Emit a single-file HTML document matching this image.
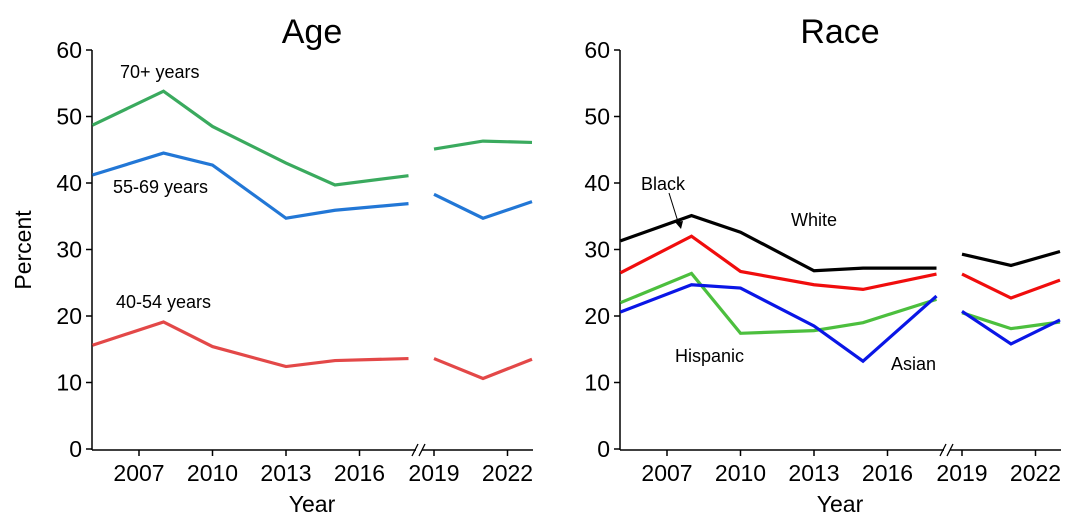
<!DOCTYPE html><html><head><style>body{margin:0;background:#fff}svg{display:block}text{font-family:"Liberation Sans",Arial,sans-serif;fill:#000}</style></head><body>
<svg width="1080" height="527" viewBox="0 0 1080 527" xmlns="http://www.w3.org/2000/svg">
<g id="root"></g>
</svg>
<script>
const NS="http://www.w3.org/2000/svg",root=document.getElementById("root");
function el(t,a,txt){const e=document.createElementNS(NS,t);for(const k in a)e.setAttribute(k,a[k]);if(txt!=null)e.textContent=txt;root.appendChild(e);return e;}
const Y=v=>449-v*6.65;
const yrsL=[2005.1,2008,2010,2013,2015,2018],yrsR=[2019,2021,2023];
function X(off,yr){return yr<2018.6? off+139+(yr-2007)*24.5 : off+434+(yr-2019)*24.5;}
function panel(off,title,series){
 const x0=off+92,xe=off+533;
 el("line",{x1:x0,y1:50,x2:x0,y2:450,stroke:"#000","stroke-width":1.5});
 for(let v=0;v<=60;v+=10){el("line",{x1:x0-6,y1:Y(v),x2:x0,y2:Y(v),stroke:"#000","stroke-width":1.5});
  el("text",{x:x0-10,y:Y(v)+8,"font-size":23,"text-anchor":"end"},v);}
 el("line",{x1:x0,y1:450,x2:off+416,y2:450,stroke:"#000","stroke-width":1.5});
 el("line",{x1:off+422,y1:450,x2:xe,y2:450,stroke:"#000","stroke-width":1.5});
 el("line",{x1:off+412,y1:456,x2:off+418,y2:444,stroke:"#000","stroke-width":1.3});
 el("line",{x1:off+419,y1:456,x2:off+425,y2:444,stroke:"#000","stroke-width":1.3});
 [2007,2010,2013,2016,2019,2022].forEach(y=>{const x=X(off,y);el("line",{x1:x,y1:450,x2:x,y2:456,stroke:"#000","stroke-width":1.5});
  el("text",{x:x,y:481,"font-size":23,"text-anchor":"middle"},y);});
 el("text",{x:off+312,y:512,"font-size":23,"text-anchor":"middle"},"Year");
 el("text",{x:off+312,y:43,"font-size":34,"text-anchor":"middle"},title);
 series.forEach(s=>{
  el("polyline",{points:yrsL.map((y,i)=>X(off,y)+","+Y(s.d[i])).join(" "),fill:"none",stroke:s.c,"stroke-width":3.2});
  el("polyline",{points:yrsR.map((y,i)=>X(off,y)+","+Y(s.d[6+i])).join(" "),fill:"none",stroke:s.c,"stroke-width":3.2});
 });
}
panel(0,"Age",[
 {c:"#3aaa5e",d:[48.7,53.8,48.5,43,39.7,41.1,45.1,46.3,46.1]},
 {c:"#2277d6",d:[41.2,44.5,42.7,34.7,35.9,36.9,38.3,34.7,37.2]},
 {c:"#e34848",d:[15.6,19.1,15.4,12.4,13.3,13.6,13.6,10.6,13.5]}]);
panel(528,"Race",[
 {c:"#000",d:[31.3,35.1,32.6,26.8,27.2,27.2,29.3,27.6,29.7]},
 {c:"#f00d0d",d:[26.5,32,26.7,24.7,24,26.3,26.3,22.7,25.4]},
 {c:"#4cbf3e",d:[22,26.4,17.4,17.8,19,22.5,20.5,18.1,19.1]},
 {c:"#0a16e6",d:[20.6,24.7,24.2,18.5,13.2,23,20.7,15.8,19.4]}]);
el("text",{x:31,y:250,"font-size":23,"text-anchor":"middle",transform:"rotate(-90 31 250)"},"Percent");
el("text",{x:120,y:78,"font-size":18},"70+ years");
el("text",{x:113,y:193,"font-size":18},"55-69 years");
el("text",{x:116,y:308,"font-size":18},"40-54 years");
el("text",{x:641,y:190,"font-size":18},"Black");
el("text",{x:791,y:226,"font-size":18},"White");
el("text",{x:675,y:362,"font-size":18},"Hispanic");
el("text",{x:891,y:370,"font-size":18},"Asian");
el("line",{x1:669,y1:193,x2:679,y2:225,stroke:"#000","stroke-width":1});
el("polygon",{points:"675,222 683,221 681,229",fill:"#000"});
</script>
</body></html>
